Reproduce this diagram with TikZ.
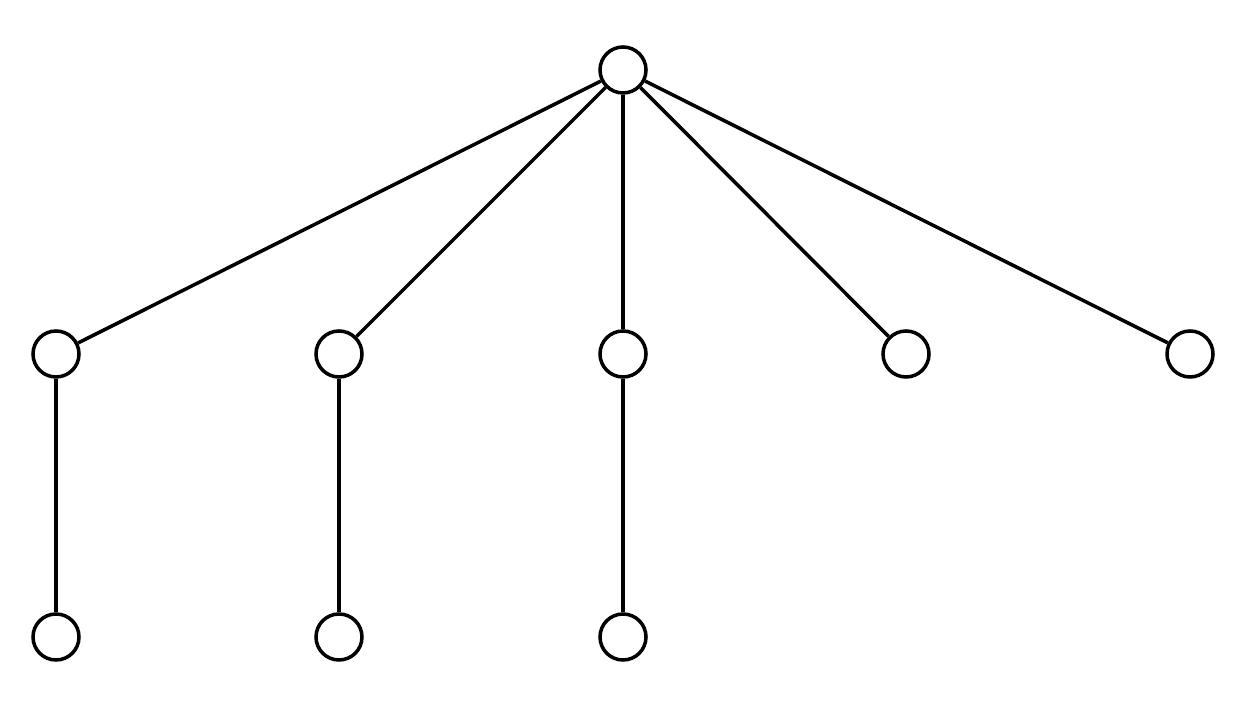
\documentclass[tikz,border=0pt]{standalone}
\begin{document}
\begin{tikzpicture}
\tikzset{vert/.style={circle,draw,line width=2pt,fill=white,inner sep=0pt,minimum size=0.92cm},
edge/.style={line width=2pt}}
\useasboundingbox (0,0) rectangle (25.12,14.04);
\node[vert] (r) at (12.46,12.64) {};
\node[vert] (a) at (1.12,6.96) {};
\node[vert] (b) at (6.78,6.96) {};
\node[vert] (c) at (12.46,6.96) {};
\node[vert] (d) at (18.12,6.96) {};
\node[vert] (e) at (23.80,6.96) {};
\node[vert] (a1) at (1.12,1.30) {};
\node[vert] (b1) at (6.78,1.30) {};
\node[vert] (c1) at (12.46,1.30) {};
\draw[edge] (r) -- (a);
\draw[edge] (r) -- (b);
\draw[edge] (r) -- (c);
\draw[edge] (r) -- (d);
\draw[edge] (r) -- (e);
\draw[edge] (a) -- (a1);
\draw[edge] (b) -- (b1);
\draw[edge] (c) -- (c1);
\end{tikzpicture}
\end{document}
